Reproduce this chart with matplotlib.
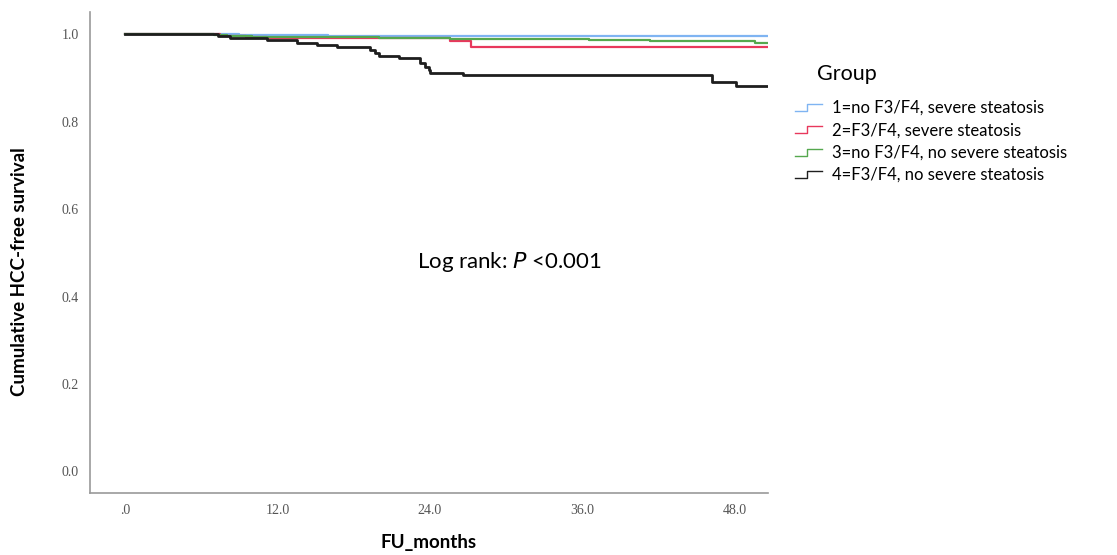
import matplotlib
matplotlib.use("Agg")
from matplotlib import pyplot as plt
from matplotlib.lines import Line2D
from matplotlib.legend_handler import HandlerBase

# Kaplan-Meier steps (months, survival)
t_g1 = [0, 9.0, 16.0, 20.0, 50.6]
s_g1 = [1.0, 0.9985, 0.997, 0.9965, 0.9965]

t_g2 = [0, 7.5, 9.5, 11.2, 25.6, 27.2, 50.6]
s_g2 = [1.0, 0.997, 0.993, 0.991, 0.9836, 0.970, 0.970]

t_g3 = [0, 7.0, 8.0, 10.0, 14.0, 20.0, 25.6, 36.5, 37.6, 41.3, 49.6, 50.6]
s_g3 = [1.0, 0.998, 0.996, 0.9945, 0.993, 0.992, 0.9897, 0.988, 0.986, 0.9836, 0.980, 0.980]

t_g4 = [0, 7.35, 8.3, 11.2, 13.5, 15.1, 16.7, 19.3, 19.7, 20.0, 21.6, 23.2, 23.6,
        23.9, 24.0, 26.6, 46.2, 48.1, 50.6]
s_g4 = [1.0, 0.9966, 0.991, 0.987, 0.981, 0.976, 0.970, 0.9645, 0.957, 0.951, 0.9455,
        0.934, 0.926, 0.919, 0.912, 0.906, 0.890, 0.881, 0.881]

labels = ["1=no F3/F4, severe steatosis", "2=F3/F4, severe steatosis",
          "3=no F3/F4, no severe steatosis", "4=F3/F4, no severe steatosis"]
colors = ["#7fb4f2", "#e8385c", "#55a84e", "#1e1e1e"]
widths = [1.6, 1.6, 1.6, 2.0]

x_ticks = [0, 12, 24, 36, 48]
x_ticklabels = [".0", "12.0", "24.0", "36.0", "48.0"]
y_ticks = [0.0, 0.2, 0.4, 0.6, 0.8, 1.0]
y_ticklabels = ["0.0", "0.2", "0.4", "0.6", "0.8", "1.0"]


class StepHandler(HandlerBase):
    def create_artists(self, legend, orig_handle, xdescent, ydescent, width, height, fontsize, trans):
        xs = [0 - xdescent, 0.45 * width - xdescent, 0.45 * width - xdescent, width - xdescent]
        ys = [0.15 * height - ydescent, 0.15 * height - ydescent,
              0.75 * height - ydescent, 0.75 * height - ydescent]
        ln = Line2D(xs, ys, color=orig_handle.get_color(), lw=1.0)
        ln.set_transform(trans)
        return [ln]


fig = plt.figure(figsize=(11.17, 5.55), dpi=100)
ax = fig.add_axes([0.0806, 0.1123, 0.607, 0.8661])

series = [(t_g1, s_g1), (t_g2, s_g2), (t_g3, s_g3), (t_g4, s_g4)]
handles = []
for (t, s), c, w, lab in zip(series, colors, widths, labels):
    h, = ax.step(t, s, where="post", color=c, lw=w, label=lab)
    handles.append(h)

ax.set_xlim(-2.75, 50.6)
ax.set_ylim(-0.0485, 1.051)
ax.set_xticks(x_ticks)
ax.set_xticklabels(x_ticklabels)
ax.set_yticks(y_ticks)
ax.set_yticklabels(y_ticklabels)
ax.tick_params(length=0, labelsize=10, labelcolor="#555555", pad=8)
for lbl in ax.get_xticklabels() + ax.get_yticklabels():
    lbl.set_family("Liberation Serif")

for side in ["top", "right"]:
    ax.spines[side].set_visible(False)
for side in ["left", "bottom"]:
    ax.spines[side].set_color("#9a9a9a")
    ax.spines[side].set_linewidth(1.2)

ax.set_ylabel("Cumulative HCC-free survival", fontsize=13.5, fontweight="bold", family="Lato")
ax.yaxis.set_label_coords(-0.092, 0.46)
ax.set_xlabel("FU_months", fontsize=13.5, fontweight="bold", family="Lato")
ax.xaxis.set_label_coords(0.5, -0.085)

fig.text(0.3733, 0.528, "Log rank: $\\it{P}$ <0.001", fontsize=16, family="Lato", va="center")

fig.text(0.7314, 0.8667, "Group", fontsize=15.5, family="Lato", va="center")
leg = fig.legend(handles, labels, loc="upper left", bbox_to_anchor=(0.7117, 0.820),
                 frameon=False, borderpad=0, borderaxespad=0,
                 handlelength=1.6, handletextpad=0.65, labelspacing=0.38,
                 prop={"family": "Lato", "size": 12},
                 handler_map={Line2D: StepHandler()})

fig.savefig("out.png", dpi=100)
